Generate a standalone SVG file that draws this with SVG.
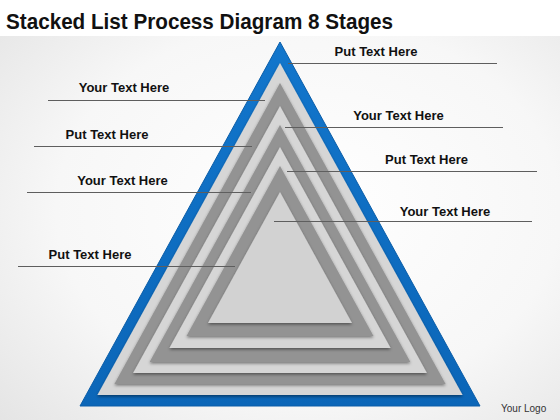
<svg xmlns="http://www.w3.org/2000/svg" width="560" height="420" viewBox="0 0 560 420">
  <defs>
    <radialGradient id="bg" cx="0.55" cy="0.5" r="0.75">
      <stop offset="0" stop-color="#ffffff"/>
      <stop offset="0.6" stop-color="#f7f7f7"/>
      <stop offset="1" stop-color="#e4e4e4"/>
    </radialGradient>
    <linearGradient id="blue" x1="0" y1="0" x2="0" y2="1">
      <stop offset="0" stop-color="#1276cc"/>
      <stop offset="1" stop-color="#0b66b8"/>
    </linearGradient>
    <filter id="sh" x="-10%" y="-10%" width="120%" height="120%">
      <feDropShadow dx="0" dy="1.5" stdDeviation="1.4" flood-color="#000" flood-opacity="0.45"/>
    </filter>
  </defs>
  <style>
    .lbl { font-family: "Liberation Sans", Arial, sans-serif; font-weight: bold; font-size: 13px; fill: #111; text-anchor: middle; }
    .title { font-family: "Liberation Sans", Arial, sans-serif; font-weight: bold; font-size: 22px; fill: #111; }
    .logo { font-family: "Liberation Sans", Arial, sans-serif; font-size: 10px; fill: #333; }
    .lead { stroke: #5e5e5e; stroke-width: 1.1; fill: none; }
    .light { fill: #d6d6d6; filter: url(#sh); }
    .dark { fill: #939393; filter: url(#sh); }
    .inner { fill: #d2d2d2; filter: url(#sh); }
  </style>

  <rect x="0" y="0" width="560" height="420" fill="url(#bg)"/>
  <rect x="0" y="0" width="560" height="36" fill="#ffffff"/>

  <text class="title" x="6" y="29" textLength="387" lengthAdjust="spacingAndGlyphs">Stacked List Process Diagram 8 Stages</text>

  <g id="layer1"><polygon points="280,42 480,406 80,406" fill="url(#blue)" stroke="#0a5da8" stroke-width="1"/></g>
  <g id="layer2"><polygon class="light" points="280,63 462.6,395 97.4,395"/></g>
  <g id="layer3"><polygon class="dark" points="280,83 445.6,384 114.4,384"/></g>
  <g id="layer4"><polygon class="light" points="280,106 426.9,373 133.1,373"/></g>
  <g id="layer5"><polygon class="dark" points="280,125 410.4,362 149.6,362"/></g>
  <g id="layer6"><polygon class="light" points="280,147 390.6,348 169.4,348"/></g>
  <g id="layer7"><polygon class="dark" points="280,166 373.5,336 186.5,336"/></g>
  <g id="layer8"><polygon class="inner" points="280,192 352,323 208,323"/></g>

  <g id="connectors">
    <line class="lead" x1="288" y1="63.5" x2="497" y2="63.5"/>
    <line class="lead" x1="285" y1="127.5" x2="503" y2="127.5"/>
    <line class="lead" x1="287" y1="171.5" x2="537" y2="171.5"/>
    <line class="lead" x1="274" y1="221.5" x2="532" y2="221.5"/>
    <line class="lead" x1="48" y1="100.5" x2="265" y2="100.5"/>
    <line class="lead" x1="34" y1="146.5" x2="252" y2="146.5"/>
    <line class="lead" x1="27" y1="192.5" x2="251" y2="192.5"/>
    <line class="lead" x1="18" y1="266.5" x2="235" y2="266.5"/>
  </g>

  <g id="label-r1"><text class="lbl" x="376" y="56">Put Text Here</text></g>
  <g id="label-r2"><text class="lbl" x="398.5" y="120">Your Text Here</text></g>
  <g id="label-r3"><text class="lbl" x="426.5" y="164">Put Text Here</text></g>
  <g id="label-r4"><text class="lbl" x="445" y="216">Your Text Here</text></g>
  <g id="label-l1"><text class="lbl" x="124" y="92">Your Text Here</text></g>
  <g id="label-l2"><text class="lbl" x="107" y="139">Put Text Here</text></g>
  <g id="label-l3"><text class="lbl" x="122.5" y="185">Your Text Here</text></g>
  <g id="label-l4"><text class="lbl" x="90" y="259">Put Text Here</text></g>

  <text class="logo" x="501" y="412">Your Logo</text>
</svg>
